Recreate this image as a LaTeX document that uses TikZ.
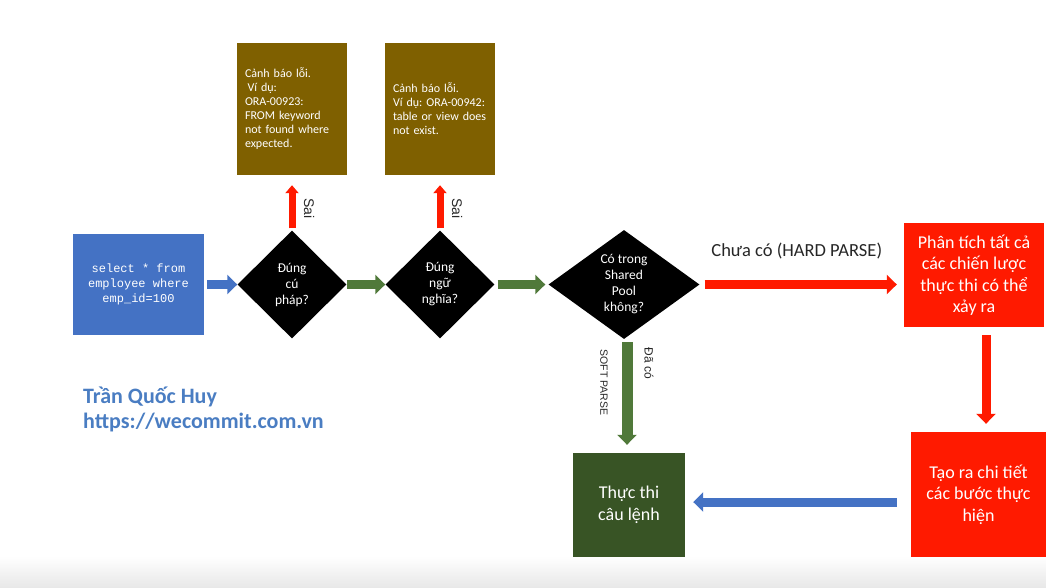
\documentclass[tikz,border=0pt]{standalone}
\usepackage{fontspec}
\setmainfont{Carlito}
\setmonofont{Liberation Mono}
\newfontfamily\labelfont{Liberation Sans}
\usepackage{xcolor}
\usetikzlibrary{
    shapes,
    shapes.geometric,
    positioning,
    arrows.meta
}
\definecolor{sqlblue}{HTML}{4472C4}
\definecolor{authorblue}{HTML}{4A7DC2}
\definecolor{errbrown}{HTML}{7F6000}
\definecolor{hardred}{HTML}{FF1A00}
\definecolor{arrowgreen}{HTML}{50793A}
\definecolor{execgreen}{HTML}{385425}
\tikzset{
  basic/.style = {
      rectangle,
      inner sep=0pt,
      align=center,
      text=white
  },
  query/.style = {
      basic,
      fill=sqlblue,
      minimum width=131pt,
      minimum height=101pt,
      font=\ttfamily\fontsize{12}{15}\selectfont
  },
  decision/.style = {
      basic,
      diamond,
      fill=black,
      minimum width=109pt,
      minimum height=108pt,
      font=\fontsize{13.5}{16}\selectfont
  },
  errbox/.style = {
      basic,
      fill=errbrown,
      minimum width=110pt,
      minimum height=132pt,
      text width=94pt,
      align=left,
      font=\fontsize{12}{14}\selectfont
  },
  hardbox/.style = {
      basic,
      fill=hardred,
      font=\fontsize{18}{21.5}\selectfont
  },
  execbox/.style = {
      basic,
      fill=execgreen,
      minimum width=112pt,
      minimum height=104pt,
      font=\fontsize{18}{22}\selectfont
  },
  flow/.style = {
      line width=9pt,
      -{Triangle[length=10pt, width=19pt]}
  },
  thinflow/.style = {
      line width=7pt,
      -{Triangle[length=8pt, width=13pt]}
  },
  sidelabel/.style = {
      inner sep=0pt,
      rotate=-90,
      text=black!85
  },
  author/.style = {
      inner sep=0pt,
      align=left,
      anchor=west,
      text=authorblue,
      font=\bfseries\fontsize{22}{25}\selectfont
  }
}
\frenchspacing
\begin{document}
\begin{tikzpicture}[x=1pt, y=-1pt, node distance=148pt]
    \useasboundingbox (0,0) rectangle (1046,587);
    \shade[top color=white, bottom color=black!9] (0,556) rectangle (1046,587);
    % Parse steps
    \node[query] (Query) at (138.5,284.5) {select * from\\employee where\\emp\_id=100};
    \node[decision, right of=Query, node distance=153.5pt] (Syntax) {Đúng\\cú\\pháp?};
    \node[decision, right of=Syntax] (Semantic) {Đúng\\ngữ\\nghĩa?};
    \node[decision, minimum width=151pt, minimum height=109pt, right of=Semantic, node distance=184pt] (Pool) {Có trong\\Shared\\Pool\\không?};
    \node[errbox, above of=Syntax, node distance=175.5pt] (SyntaxErr) {Cảnh báo lỗi.\\\hspace*{2.5pt}Ví dụ:\\ORA-00923:\\FROM keyword\\not found where\\expected.\\[6pt]};
    \node[errbox, above of=Semantic, node distance=175.5pt] (SemanticErr) {Cảnh báo lỗi.\\Ví dụ: ORA-00942:\\table or view does\\not exist.};
    \node[hardbox, minimum width=140pt, minimum height=104pt] (Analyze) at (974,275) {Phân tích tất cả\\các chiến lược\\thực thi có thể\\xảy ra};
    \node[hardbox, minimum width=135pt, minimum height=125pt] (Plan) at (978.5,494.5) {Tạo ra chi tiết\\các bước thực\\hiện};
    \node[execbox] (Execute) at (629,505) {Thực thi\\câu lệnh};
    \node[author] (Author) at (83,409.5) {Trần Quốc Huy\\https://wecommit.com.vn};
    % Edges
    \draw[flow, sqlblue, shorten <=3pt] (Query.east) -- (Syntax.west);
    \draw[flow, arrowgreen] (Syntax.east) -- (Semantic.west);
    \draw[flow, arrowgreen, shorten <=3pt, shorten >=3pt] (Semantic.east) -- (Pool.west);
    \draw[thinflow, hardred, shorten <=2pt, shorten >=10pt] (Syntax.north) -- node[pos=0.4, xshift=17pt, sidelabel, font=\labelfont\fontsize{14}{14}\selectfont] {Sai} (SyntaxErr.south);
    \draw[thinflow, hardred, shorten <=2pt, shorten >=10pt] (Semantic.north) -- node[pos=0.4, xshift=17pt, sidelabel, font=\labelfont\fontsize{14}{14}\selectfont] {Sai} (SemanticErr.south);
    \draw[flow, hardred, shorten <=5pt, shorten >=7pt] (Pool.east) -- node[midway, above=21pt, xshift=-5pt, inner sep=0pt, text=black!85, font=\fontsize{18.5}{18.5}\selectfont] {Chưa có (HARD PARSE)} ([yshift=-9.5pt]Analyze.west);
    \draw[flow, hardred, shorten <=8pt, shorten >=8pt] ([xshift=12pt]Analyze.south) -- ([xshift=7.5pt]Plan.north);
    \draw[flow, sqlblue, shorten <=14pt, shorten >=8pt] ([yshift=-7.5pt]Plan.west) -- ([yshift=3pt]Execute.east);
    \draw[flow, line width=11pt, arrowgreen, shorten <=3pt, shorten >=8pt] ([xshift=3pt]Pool.south) -- node[pos=0.38, xshift=-23pt, sidelabel, font=\labelfont\fontsize{10.5}{10.5}\selectfont] {SOFT PARSE} node[pos=0.21, xshift=22pt, sidelabel, font=\labelfont\fontsize{12}{12}\selectfont] {Đã có} ([xshift=-2pt]Execute.north);
\end{tikzpicture}
\end{document}
